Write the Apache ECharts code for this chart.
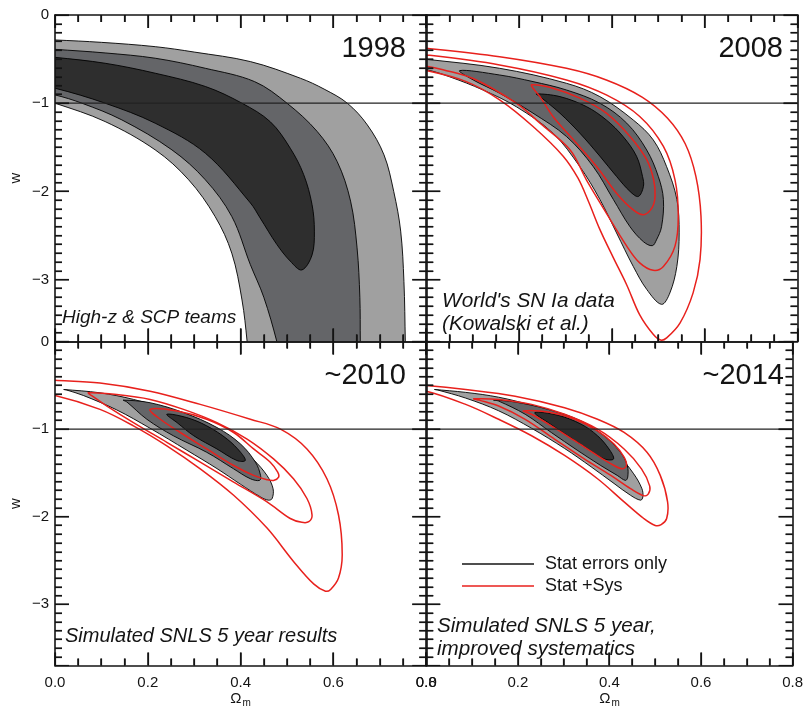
<!DOCTYPE html>
<html>
<head>
<meta charset="utf-8">
<script src="https://cdn.jsdelivr.net/npm/echarts@6/dist/echarts.min.js"></script>
<style>html,body{margin:0;padding:0;background:#fff}#c{width:806px;height:709px}</style>
</head>
<body>
<div id="c"></div>
<script>
// ---------------- data ----------------
const years = ['1998', '2008', '~2010', '~2014'];
const notes = ['High-z & SCP teams', "World's SN Ia data\n(Kowalski et al.)", 'Simulated SNLS 5 year results', 'Simulated SNLS 5 year,\nimproved systematics'];
const xTicks = [0, 0.2, 0.4, 0.6, 0.8];
const xMinorTicks = [0.05, 0.1, 0.15, 0.25, 0.3, 0.35, 0.45, 0.5, 0.55, 0.65, 0.7, 0.75];
const wTicks = [0, -1, -2, -3];
const wMinorTicks = [-0.1,-0.2,-0.3,-0.4,-0.5,-0.6,-0.7,-0.8,-0.9,-1.1,-1.2,-1.3,-1.4,-1.5,-1.6,-1.7,-1.8,-1.9,-2.1,-2.2,-2.3,-2.4,-2.5,-2.6,-2.7,-2.8,-2.9,-3.1,-3.2,-3.3,-3.4,-3.5,-3.6];
const xRange = [0, 0.8];
const wRange = [-3.7, 0];
const wLambda = -1;
const legendNames = ['Stat errors only', 'Stat +Sys'];

// Panel 1 (1998) — stat contours [Omega_m, w]
const p1Light = [[-0.05,-0.275],[0,-0.283],[0.1,-0.31],[0.216,-0.359],[0.3,-0.42],[0.421,-0.528],[0.529,-0.717],[0.58,-0.84],[0.63,-1.0],[0.673,-1.245],[0.709,-1.585],[0.73,-2.0],[0.745,-2.45],[0.752,-3.02],[0.755,-3.7],[0.756,-4.0],[0.418,-4.0],[0.414,-3.7],[0.403,-3.23],[0.381,-2.70],[0.345,-2.284],[0.288,-1.868],[0.216,-1.529],[0.108,-1.208],[0,-1.0],[-0.05,-0.93]];
const p1Mid = [[-0.05,-0.37],[0,-0.389],[0.108,-0.43],[0.216,-0.49],[0.324,-0.604],[0.43,-0.755],[0.5,-1.0],[0.565,-1.32],[0.608,-1.66],[0.637,-2.11],[0.651,-2.64],[0.657,-3.2],[0.658,-3.7],[0.659,-4.0],[0.49,-4.0],[0.478,-3.7],[0.45,-3.2],[0.421,-2.83],[0.381,-2.284],[0.324,-1.868],[0.252,-1.529],[0.144,-1.189],[0.058,-1.0],[0,-0.906],[-0.05,-0.86]];
const p1Dark = [[-0.05,-0.46],[0,-0.48],[0.108,-0.547],[0.216,-0.66],[0.324,-0.81],[0.403,-1.0],[0.464,-1.21],[0.507,-1.51],[0.536,-1.81],[0.554,-2.15],[0.559,-2.45],[0.554,-2.72],[0.532,-2.89],[0.507,-2.79],[0.478,-2.6],[0.442,-2.3],[0.421,-2.13],[0.324,-1.567],[0.216,-1.227],[0.108,-1.0],[0,-0.83],[-0.05,-0.79]];

// Panel 2 (2008)
const p2Light = [[-0.05,-0.48],[0,-0.502],[0.158,-0.604],[0.302,-0.774],[0.374,-0.925],[0.446,-1.19],[0.489,-1.415],[0.518,-1.72],[0.54,-2.09],[0.545,-2.47],[0.54,-2.85],[0.525,-3.15],[0.507,-3.28],[0.475,-3.11],[0.446,-2.85],[0.41,-2.47],[0.374,-2.09],[0.331,-1.72],[0.273,-1.34],[0.194,-1.04],[0.122,-0.85],[0.05,-0.70],[0,-0.62],[-0.05,-0.59]];
const p2Mid = [[0.072,-0.63],[0.158,-0.68],[0.23,-0.755],[0.302,-0.85],[0.374,-1.0],[0.432,-1.226],[0.475,-1.53],[0.5,-1.83],[0.511,-2.09],[0.507,-2.4],[0.496,-2.55],[0.487,-2.615],[0.468,-2.57],[0.439,-2.4],[0.403,-2.09],[0.36,-1.72],[0.302,-1.377],[0.23,-1.113],[0.158,-0.887],[0.101,-0.736]];
const p2Dark = [[0.237,-0.894],[0.288,-0.925],[0.345,-1.038],[0.388,-1.19],[0.424,-1.377],[0.453,-1.6],[0.466,-1.83],[0.468,-1.943],[0.457,-2.057],[0.439,-2.0],[0.41,-1.83],[0.374,-1.6],[0.331,-1.34],[0.288,-1.113],[0.245,-0.925]];
const p2Sys1 = [[0.227,-0.79],[0.266,-0.819],[0.331,-0.943],[0.388,-1.113],[0.439,-1.377],[0.475,-1.64],[0.49,-1.868],[0.493,-2.057],[0.486,-2.19],[0.468,-2.264],[0.446,-2.21],[0.41,-2.02],[0.367,-1.717],[0.317,-1.415],[0.273,-1.15],[0.245,-0.925],[0.23,-0.83]];
const p2Sys2 = [[-0.05,-0.44],[0,-0.453],[0.158,-0.566],[0.302,-0.736],[0.388,-0.906],[0.46,-1.15],[0.511,-1.49],[0.536,-1.868],[0.543,-2.28],[0.536,-2.62],[0.511,-2.85],[0.489,-2.894],[0.46,-2.81],[0.432,-2.62],[0.388,-2.245],[0.345,-1.868],[0.31,-1.53],[0.245,-1.226],[0.194,-1.0],[0.101,-0.72],[0.036,-0.62],[0,-0.58],[-0.05,-0.55]];
const p2Sys3 = [[-0.05,-0.36],[0,-0.377],[0.158,-0.472],[0.302,-0.604],[0.388,-0.736],[0.465,-0.93],[0.52,-1.17],[0.558,-1.46],[0.581,-1.83],[0.592,-2.28],[0.59,-2.77],[0.575,-3.15],[0.547,-3.49],[0.518,-3.66],[0.505,-3.685],[0.489,-3.62],[0.46,-3.40],[0.432,-3.06],[0.403,-2.75],[0.374,-2.43],[0.35,-2.12],[0.327,-1.85],[0.295,-1.6],[0.23,-1.264],[0.158,-0.962],[0.086,-0.755],[0,-0.63],[-0.05,-0.60]];

// Panel 3 (~2010)
const p3Light = [[0.019,-0.547],[0.097,-0.585],[0.169,-0.66],[0.241,-0.775],[0.313,-0.94],[0.385,-1.16],[0.428,-1.35],[0.457,-1.53],[0.47,-1.68],[0.468,-1.792],[0.46,-1.811],[0.443,-1.774],[0.4,-1.63],[0.349,-1.45],[0.284,-1.24],[0.205,-0.99],[0.133,-0.78],[0.061,-0.615],[0.025,-0.553]];
const p3Mid = [[0.147,-0.668],[0.205,-0.698],[0.277,-0.811],[0.349,-0.981],[0.4,-1.17],[0.432,-1.377],[0.443,-1.528],[0.441,-1.585],[0.421,-1.566],[0.385,-1.453],[0.327,-1.264],[0.255,-1.075],[0.198,-0.887],[0.155,-0.69]];
const p3Dark = [[0.241,-0.83],[0.284,-0.868],[0.327,-0.962],[0.371,-1.113],[0.4,-1.264],[0.41,-1.358],[0.392,-1.358],[0.349,-1.226],[0.299,-1.075],[0.263,-0.925]];
const p3Sys1 = [[0.205,-0.774],[0.263,-0.792],[0.327,-0.887],[0.385,-1.038],[0.428,-1.226],[0.464,-1.377],[0.48,-1.49],[0.482,-1.547],[0.471,-1.585],[0.457,-1.577],[0.428,-1.528],[0.385,-1.415],[0.327,-1.226],[0.27,-1.038],[0.227,-0.887]];
const p3Sys2 = [[0.072,-0.585],[0.133,-0.604],[0.205,-0.66],[0.277,-0.774],[0.349,-0.925],[0.414,-1.113],[0.471,-1.34],[0.514,-1.566],[0.543,-1.792],[0.554,-1.981],[0.547,-2.057],[0.532,-2.064],[0.507,-2.02],[0.457,-1.83],[0.385,-1.604],[0.313,-1.377],[0.241,-1.15],[0.169,-0.925],[0.112,-0.736],[0.08,-0.62]];
const p3Sys3 = [[-0.05,-0.43],[0,-0.442],[0.097,-0.472],[0.205,-0.566],[0.313,-0.717],[0.421,-0.887],[0.486,-1.0],[0.543,-1.226],[0.586,-1.566],[0.611,-1.98],[0.619,-2.434],[0.611,-2.70],[0.594,-2.83],[0.583,-2.85],[0.558,-2.77],[0.514,-2.51],[0.457,-2.13],[0.385,-1.755],[0.313,-1.453],[0.241,-1.19],[0.169,-0.962],[0.097,-0.774],[0,-0.615],[-0.05,-0.59]];

// Panel 4 (~2014)
const p4Light = [[0.018,-0.547],[0.086,-0.58],[0.158,-0.635],[0.23,-0.73],[0.302,-0.87],[0.374,-1.09],[0.417,-1.28],[0.453,-1.51],[0.471,-1.68],[0.473,-1.774],[0.468,-1.811],[0.446,-1.755],[0.41,-1.62],[0.36,-1.43],[0.302,-1.22],[0.23,-0.99],[0.158,-0.79],[0.086,-0.645],[0.025,-0.553]];
const p4Mid = [[0.147,-0.668],[0.194,-0.69],[0.266,-0.774],[0.338,-0.906],[0.388,-1.075],[0.424,-1.264],[0.439,-1.415],[0.44,-1.547],[0.435,-1.585],[0.417,-1.528],[0.381,-1.415],[0.331,-1.245],[0.273,-1.038],[0.216,-0.83],[0.158,-0.679]];
const p4Dark = [[0.237,-0.811],[0.288,-0.842],[0.338,-0.943],[0.374,-1.075],[0.399,-1.226],[0.409,-1.34],[0.389,-1.34],[0.353,-1.226],[0.309,-1.075],[0.266,-0.925]];
const p4Sys1 = [[0.212,-0.792],[0.266,-0.804],[0.324,-0.887],[0.374,-1.019],[0.41,-1.17],[0.432,-1.32],[0.437,-1.415],[0.428,-1.453],[0.41,-1.415],[0.374,-1.302],[0.324,-1.132],[0.273,-0.962],[0.23,-0.83]];
const p4Sys2 = [[0.104,-0.653],[0.158,-0.66],[0.23,-0.717],[0.302,-0.83],[0.374,-1.0],[0.432,-1.226],[0.47,-1.453],[0.488,-1.65],[0.485,-1.74],[0.475,-1.76],[0.446,-1.679],[0.403,-1.528],[0.345,-1.34],[0.28,-1.113],[0.216,-0.887],[0.158,-0.736],[0.115,-0.668]];
const p4Sys3 = [[-0.05,-0.49],[0,-0.502],[0.086,-0.547],[0.194,-0.623],[0.302,-0.755],[0.374,-0.887],[0.432,-1.038],[0.482,-1.264],[0.511,-1.528],[0.527,-1.83],[0.525,-2.02],[0.513,-2.09],[0.5,-2.1],[0.475,-2.02],[0.432,-1.83],[0.374,-1.566],[0.302,-1.30],[0.23,-1.075],[0.158,-0.887],[0.086,-0.717],[0,-0.566],[-0.05,-0.55]];

const statContours = [[p1Light, p1Mid, p1Dark], [p2Light, p2Mid, p2Dark], [p3Light, p3Mid, p3Dark], [p4Light, p4Mid, p4Dark]];
const sysContours = [[], [p2Sys1, p2Sys2, p2Sys3], [p3Sys1, p3Sys2, p3Sys3], [p4Sys1, p4Sys2, p4Sys3]];

// ---------------- styles / layout ----------------
const FONT = 'Liberation Sans';
const fills = ['#a0a0a0', '#646568', '#2e2e2e'];
const RED = '#e8211d';
const INK = '#141414';
const GL = [55, 426.3], GT = [15, 341.6], GW = 371.2, GH = 326.4;
const yearRight = [400, 23, 400, 22];
const noteLeft = [62, 442, 65, 437];
const noteTop = [291, 275, 284, 273.5];
const noteSize = [19, 20.8, 20, 20.6];
const MAJOR_PX = 13, MINOR_PX = 7;

const chart = echarts.init(document.getElementById('c'), null, {renderer: 'canvas'});
const grids = [], xAxes = [], yAxes = [], series = [], titles = [];

function fmtX(v) { return xTicks.some(t => Math.abs(t - v) < 1e-6) ? v.toFixed(1) : ''; }
function fmtY(v) {
  const r = Math.round(v);
  if (Math.abs(v - r) > 1e-6 || !wTicks.includes(r)) return '';
  return r === 0 ? '0' : '\u2212' + Math.abs(r);
}

function polySeries(i, shapes, name, styleFn) {
  return {
    type: 'custom', name: name, xAxisIndex: 2 * i, yAxisIndex: 2 * i, clip: true, silent: true,
    data: shapes.map((s, k) => [s[1][0], s[1][1], k]),
    renderItem: function (params, api) {
      const s = shapes[params.dataIndex];
      const pts = s.map(p => api.coord(p));
      return {type: 'polygon', shape: {points: pts, smooth: 0.35}, style: styleFn(params.dataIndex)};
    },
    z: 2
  };
}

// inward ticks on all four edges (custom rects placed through the axes' scales)
function tickSeries(i) {
  return {
    type: 'custom', name: 'ticks' + i, xAxisIndex: 2 * i, yAxisIndex: 2 * i, silent: true, zlevel: 1, z: 20, clip: false,
    data: [[xRange[0], wRange[1]]],
    renderItem: function (params, api) {
      const kids = [];
      const htick = (p, len) => kids.push({type: 'rect', shape: {x: len > 0 ? p[0] : p[0] + len, y: Math.round(p[1]) - 0.6, width: Math.abs(len), height: 1.2}, style: {fill: INK, stroke: null}});
      const vtick = (p, len) => kids.push({type: 'rect', shape: {x: Math.round(p[0]) - 0.8, y: len > 0 ? p[1] : p[1] + len, width: 1.6, height: Math.abs(len)}, style: {fill: INK, stroke: null}});
      wTicks.forEach(v => { htick(api.coord([xRange[0], v]), 14); htick(api.coord([xRange[1], v]), -14); });
      wMinorTicks.forEach(v => { htick(api.coord([xRange[0], v]), MINOR_PX); htick(api.coord([xRange[1], v]), -MINOR_PX); });
      xTicks.forEach(v => { vtick(api.coord([v, wRange[1]]), MAJOR_PX); vtick(api.coord([v, wRange[0]]), -MAJOR_PX); });
      xMinorTicks.forEach(v => { vtick(api.coord([v, wRange[1]]), MINOR_PX); vtick(api.coord([v, wRange[0]]), -MINOR_PX); });
      return {type: 'group', children: kids};
    }
  };
}

for (let i = 0; i < 4; i++) {
  const col = i % 2, row = Math.floor(i / 2);
  const showX = row === 1, showY = col === 0;
  grids.push({left: GL[col], top: GT[row], width: GW, height: GH, containLabel: false});
  const axisLine = {show: true, onZero: false, lineStyle: {color: INK, width: 1.6}};
  const tickStyle = {color: INK, width: 1.2};
  const xBase = (pos, labels) => ({
    gridIndex: i, type: 'value', position: pos, min: xRange[0], max: xRange[1], interval: 0.2,
    splitLine: {show: false}, axisLine: axisLine,
    axisTick: {show: true, inside: true, length: MAJOR_PX, lineStyle: tickStyle},
    minorTick: {show: true, splitNumber: 4, length: MINOR_PX, lineStyle: tickStyle},
    axisLabel: {show: labels, formatter: fmtX, margin: 10, fontSize: 15, fontFamily: FONT, color: INK},
    name: labels ? '{o|\u03A9}{s|m}' : '', nameLocation: 'middle', nameGap: 24,
    nameTextStyle: {color: INK, rich: {o: {fontSize: 15, fontFamily: FONT, color: INK}, s: {fontSize: 10, fontFamily: FONT, color: INK, padding: [8, 0, 0, 1]}}},
    z: 10
  });
  const yBase = (pos, labels) => ({
    gridIndex: i, type: 'value', position: pos, min: wRange[0], max: wRange[1], splitNumber: 4,
    splitLine: {show: false}, axisLine: axisLine,
    axisTick: {show: true, inside: true, length: 14, lineStyle: tickStyle},
    minorTick: {show: true, splitNumber: 10, length: MINOR_PX, lineStyle: tickStyle},
    axisLabel: {show: labels, formatter: fmtY, margin: 6, fontSize: 15, fontFamily: FONT, color: INK},
    name: labels ? 'w' : '', nameLocation: 'middle', nameGap: 32,
    nameTextStyle: {fontSize: 15, fontFamily: FONT, color: INK},
    z: 10
  });
  xAxes.push(xBase('bottom', showX));
  xAxes.push(xBase('top', false));
  yAxes.push(yBase('left', showY));
  yAxes.push(yBase('right', false));

  series.push(polySeries(i, statContours[i], legendNames[0], k => ({fill: fills[k], stroke: '#000', lineWidth: 0.9})));
  if (sysContours[i].length) {
    const s = polySeries(i, sysContours[i], legendNames[1], k => ({fill: 'none', stroke: RED, lineWidth: 1.5}));
    s.z = 3;
    series.push(s);
  }
  series.push({
    type: 'line', xAxisIndex: 2 * i, yAxisIndex: 2 * i, data: [[xRange[0], wLambda], [xRange[1], wLambda]],
    symbol: 'none', silent: true, lineStyle: {color: '#222', width: 1.2}, z: 4, animation: false
  });
  series.push(tickSeries(i));

  titles.push({text: years[i], right: yearRight[i], top: GT[row] + 19.5, padding: 0, textStyle: {fontSize: 29, fontWeight: 'normal', fontFamily: FONT, color: INK}});
  titles.push({text: notes[i], left: noteLeft[i], top: GT[row] + noteTop[i], padding: 0,
    textStyle: {fontSize: noteSize[i], fontStyle: 'italic', fontWeight: 'normal', fontFamily: FONT, color: INK, lineHeight: 22.6}});
}

chart.setOption({
  animation: false,
  backgroundColor: '#fff',
  title: titles,
  grid: grids,
  xAxis: xAxes,
  yAxis: yAxes,
  legend: {
    left: 462, top: 554, padding: 0, orient: 'vertical', itemWidth: 72, itemHeight: 1.5, itemGap: 2, icon: 'rect',
    selectedMode: false,
    textStyle: {fontSize: 18, fontFamily: FONT, color: INK, lineHeight: 20, padding: [0, 0, 0, 6]},
    data: [{name: legendNames[0], itemStyle: {color: INK}}, {name: legendNames[1], itemStyle: {color: RED}}]
  },
  series: series
});
</script>
</body>
</html>
